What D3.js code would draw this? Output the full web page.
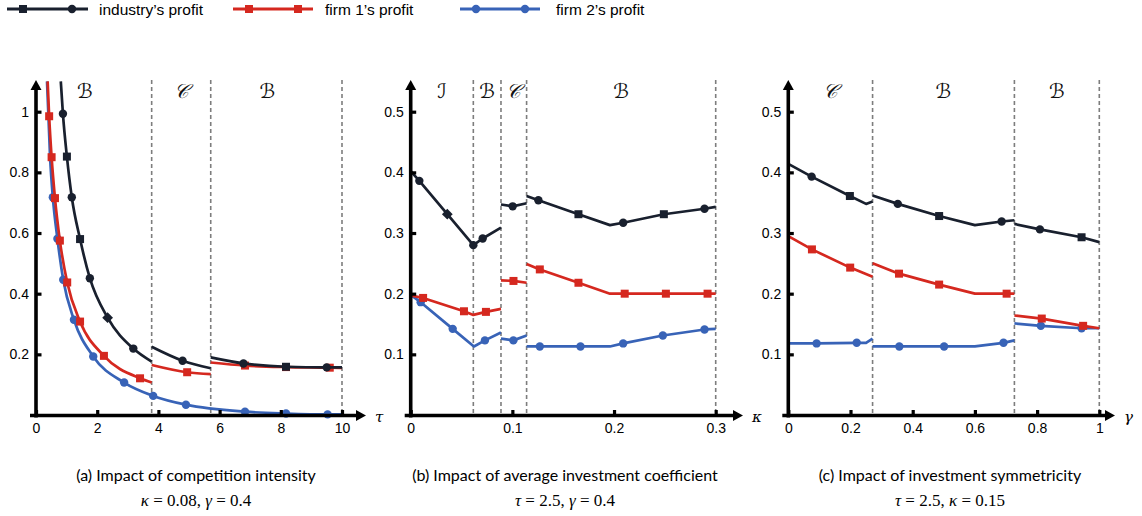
<!DOCTYPE html>
<html>
<head>
<meta charset="utf-8">
<script src="https://cdn.jsdelivr.net/npm/d3@7"></script>
<style>
  body { margin: 0; background: #fff; }
  svg text { font-family: "Liberation Sans", Arial, sans-serif; }
</style>
</head>
<body>
<svg id="chart" width="1142" height="516"></svg>
<script>
// ---------- series data: each series is a list of segments, each point [x, y, marker] ----------
// marker: "o" circle, "s" square, "d" diamond, "" none

// (a) competition intensity tau
const aIndustry = [
  [[0.81,1.10,""],[0.88,0.993,"o"],[1.01,0.852,"s"],[1.17,0.718,"o"],[1.44,0.580,"s"],[1.76,0.451,"o"],[2.34,0.321,"d"],[3.18,0.219,"o"],[3.78,0.176,""]],
  [[3.78,0.225,""],[4.79,0.179,"o"],[5.71,0.154,""]],
  [[5.71,0.190,""],[6.78,0.170,"o"],[8.17,0.159,"s"],[9.50,0.157,"o"],[10.0,0.157,""]]
];
const aFirm1 = [
  [[0.38,1.10,""],[0.43,0.985,"s"],[0.51,0.850,"s"],[0.62,0.715,"s"],[0.78,0.575,"s"],[1.02,0.437,"s"],[1.44,0.308,"s"],[2.22,0.195,"s"],[3.40,0.121,"s"],[3.78,0.107,""]],
  [[3.78,0.165,""],[4.94,0.141,"s"],[5.71,0.135,""]],
  [[5.71,0.173,""],[6.83,0.163,"s"],[8.17,0.158,"s"],[9.60,0.156,"s"],[10.0,0.155,""]]
];
const aFirm2 = [
  [[0.36,1.10,""],[0.46,0.850,""],[0.55,0.718,"o"],[0.70,0.581,"o"],[0.89,0.446,"o"],[1.24,0.314,"o"],[1.87,0.193,"o"],[2.88,0.107,"o"],[3.83,0.063,"o"],[4.90,0.034,"o"],[6.83,0.011,"o"],[8.17,0.005,"o"],[9.53,0.002,"o"],[10.0,0.002,""]]
];
const aBounds = [3.78, 5.71, 10];
const aRegions = ["ℬ", "𝒞", "ℬ"];
const aXTicks = [0, 2, 4, 6, 8, 10];
const aYTicks = [0.2, 0.4, 0.6, 0.8, 1];

// (b) average investment coefficient kappa
const bIndustry = [
  [[0,0.402,""],[0.0085,0.386,"o"],[0.036,0.331,"d"],[0.0616,0.280,"o"],[0.0708,0.291,"o"],[0.0888,0.309,""]],
  [[0.0888,0.347,""],[0.1003,0.344,"o"],[0.114,0.349,""]],
  [[0.114,0.361,""],[0.1256,0.354,"o"],[0.165,0.331,"s"],[0.196,0.313,""],[0.209,0.317,"o"],[0.249,0.331,"s"],[0.289,0.340,"o"],[0.30,0.343,""]]
];
const bFirm1 = [
  [[0,0.197,""],[0.0122,0.193,"s"],[0.0524,0.171,"s"],[0.0616,0.165,""],[0.074,0.170,"s"],[0.0888,0.175,""]],
  [[0.0888,0.222,""],[0.1011,0.221,"s"],[0.114,0.218,""]],
  [[0.114,0.249,""],[0.127,0.240,"s"],[0.165,0.218,"s"],[0.196,0.200,""],[0.2105,0.200,"s"],[0.251,0.200,"s"],[0.292,0.200,"s"],[0.30,0.200,""]]
];
const bFirm2 = [
  [[0,0.198,""],[0.0098,0.186,"o"],[0.0413,0.142,"o"],[0.0622,0.113,""],[0.073,0.123,"o"],[0.0888,0.136,""]],
  [[0.0888,0.126,""],[0.101,0.123,"o"],[0.114,0.131,""]],
  [[0.114,0.113,""],[0.127,0.113,"o"],[0.167,0.113,"o"],[0.196,0.113,""],[0.209,0.118,"o"],[0.248,0.131,"o"],[0.289,0.141,"o"],[0.30,0.142,""]]
];
const bBounds = [0.0616, 0.0888, 0.114, 0.3];
const bRegions = ["ℐ", "ℬ", "𝒞", "ℬ"];
const bXTicks = [0, 0.1, 0.2, 0.3];
const bYTicks = [0.1, 0.2, 0.3, 0.4, 0.5];

// (c) investment symmetricity gamma
const cIndustry = [
  [[0,0.414,""],[0.075,0.393,"o"],[0.198,0.361,"s"],[0.25,0.348,""],[0.271,0.352,""]],
  [[0.271,0.362,""],[0.352,0.348,"o"],[0.485,0.328,"s"],[0.600,0.313,""],[0.686,0.319,"o"],[0.727,0.321,""]],
  [[0.727,0.315,""],[0.809,0.306,"o"],[0.943,0.293,"s"],[1.0,0.285,""]]
];
const cFirm1 = [
  [[0,0.295,""],[0.076,0.273,"s"],[0.199,0.243,"s"],[0.271,0.228,""]],
  [[0.271,0.250,""],[0.356,0.233,"s"],[0.485,0.215,"s"],[0.600,0.200,""],[0.702,0.200,"s"],[0.727,0.200,""]],
  [[0.727,0.164,""],[0.815,0.159,"s"],[0.948,0.147,"s"],[1.0,0.143,""]]
];
const cFirm2 = [
  [[0,0.118,""],[0.091,0.118,"o"],[0.22,0.119,"o"],[0.25,0.119,""],[0.271,0.126,""]],
  [[0.271,0.113,""],[0.357,0.113,"o"],[0.501,0.113,"o"],[0.600,0.113,""],[0.692,0.119,"o"],[0.727,0.123,""]],
  [[0.727,0.151,""],[0.812,0.147,"o"],[0.943,0.143,"o"],[1.0,0.143,""]]
];
const cBounds = [0.271, 0.727, 1];
const cRegions = ["𝒞", "ℬ", "ℬ"];
const cXTicks = [0, 0.2, 0.4, 0.6, 0.8, 1];
const cYTicks = [0.1, 0.2, 0.3, 0.4, 0.5];

// legend and captions
const legendLabels = ["industry’s profit", "firm 1’s profit", "firm 2’s profit"];
const captionTitles = [
  "(a) Impact of competition intensity",
  "(b) Impact of average investment coefficient",
  "(c) Impact of investment symmetricity"
];
// parameter lines: [text, italic?]
const captionParams = [
  [["κ",1],[" = 0.08, ",0],["γ",1],[" = 0.4",0]],
  [["τ",1],[" = 2.5,  ",0],["γ",1],[" = 0.4",0]],
  [["τ",1],[" = 2.5, ",0],["κ",1],[" = 0.15",0]]
];
const axisSymbols = ["τ", "κ", "γ"];

// ---------- drawing ----------
const COLORS = { industry: "#19202e", firm1: "#d5281f", firm2: "#3863b7" };
const svg = d3.select("#chart");
svg.append("rect").attr("width", 1142).attr("height", 516).attr("fill", "#fff");

const AXIS_Y = 415.5, AXIS_TOP = 80;

const panels = [
  { x0: 36, x1: 342, tip: 366, xDomain: [0, 10], yMax: 1, curve: d3.curveMonotoneX,
    series: [aFirm2, aFirm1, aIndustry], bounds: aBounds, regions: aRegions,
    xTicks: aXTicks, yTicks: aYTicks, cx: 196, labelShift: -9 },
  { x0: 410.7, x1: 715.7, tip: 743, xDomain: [0, 0.3], yMax: 0.5, curve: d3.curveLinear,
    series: [bFirm2, bFirm1, bIndustry], bounds: bBounds, regions: bRegions,
    xTicks: bXTicks, yTicks: bYTicks, cx: 565, labelShift: 0 },
  { x0: 788.3, x1: 1099.3, tip: 1115, xDomain: [0, 1], yMax: 0.5, curve: d3.curveLinear,
    series: [cFirm2, cFirm1, cIndustry], bounds: cBounds, regions: cRegions,
    xTicks: cXTicks, yTicks: cYTicks, cx: 950, labelShift: 0 }
];
const seriesColors = [COLORS.firm2, COLORS.firm1, COLORS.industry];

function drawMarker(g, x, y, type, color) {
  if (type === "o") {
    g.append("circle").attr("cx", x).attr("cy", y).attr("r", 4.2).attr("fill", color);
  } else if (type === "s") {
    g.append("rect").attr("x", x - 4).attr("y", y - 4).attr("width", 8).attr("height", 8).attr("fill", color);
  } else if (type === "d") {
    g.append("rect").attr("x", -3.8).attr("y", -3.8).attr("width", 7.6).attr("height", 7.6)
      .attr("fill", color).attr("transform", `translate(${x},${y}) rotate(45)`);
  }
}

panels.forEach((p, i) => {
  const x = d3.scaleLinear().domain(p.xDomain).range([p.x0, p.x1]);
  const y = d3.scaleLinear().domain([0, p.yMax]).range([415, 111.7]);
  const g = svg.append("g");

  // dashed regime boundaries
  p.bounds.forEach(b => {
    g.append("line").attr("x1", x(b)).attr("x2", x(b)).attr("y1", AXIS_TOP).attr("y2", AXIS_Y)
      .attr("stroke", "#7d7d7d").attr("stroke-width", 1.6).attr("stroke-dasharray", "4,3");
  });

  // regime labels, centred in each regime
  const edges = [p.xDomain[0], ...p.bounds];
  p.regions.forEach((r, k) => {
    const shift = k === p.regions.length - 1 ? p.labelShift : (k === 0 ? p.labelShift : 0);
    g.append("text").attr("x", x((edges[k] + edges[k + 1]) / 2) + shift).attr("y", 98)
      .attr("text-anchor", "middle")
      .style("font-family", '"DejaVu Serif", "DejaVu Sans", serif')
      .style("font-style", "italic").style("font-size", "20px").attr("fill", "#111").text(r);
  });

  // series
  const clipId = "clip" + i;
  svg.append("clipPath").attr("id", clipId).append("rect")
    .attr("x", p.x0 - 10).attr("y", 81).attr("width", p.tip - p.x0 + 10).attr("height", 340);
  const plot = g.append("g").attr("clip-path", `url(#${clipId})`);
  const line = d3.line().x(d => x(d[0])).y(d => y(d[1])).curve(p.curve);
  p.series.forEach((segs, si) => {
    const col = seriesColors[si];
    segs.forEach(seg => {
      plot.append("path").attr("d", line(seg)).attr("fill", "none")
        .attr("stroke", col).attr("stroke-width", 2.7).attr("stroke-linejoin", "round");
    });
    segs.forEach(seg => seg.forEach(d => { if (d[2]) drawMarker(plot, x(d[0]), y(d[1]), d[2], col); }));
  });

  // axes with ticks
  const fmt = d3.format("~g");
  const yAxis = d3.axisLeft(y).tickValues(p.yTicks).tickFormat(fmt).tickSize(-5.5).tickPadding(7);
  const ya = g.append("g").attr("transform", `translate(${p.x0},0)`).call(yAxis);
  const xAxis = d3.axisBottom(x).tickValues(p.xTicks).tickFormat(fmt).tickSize(-5.5).tickPadding(8);
  const xa = g.append("g").attr("transform", `translate(0,${AXIS_Y})`).call(xAxis);
  [ya, xa].forEach(a => {
    a.select(".domain").remove();
    a.selectAll(".tick line").attr("stroke", "#000").attr("stroke-width", 3.2);
    a.selectAll(".tick text").attr("fill", "#000").style("font-size", "14px")
      .style("font-family", '"Liberation Sans", Arial, sans-serif');
  });

  // thick axis lines with arrow heads
  g.append("line").attr("x1", p.x0).attr("x2", p.x0).attr("y1", AXIS_Y + 2).attr("y2", AXIS_TOP + 6)
    .attr("stroke", "#000").attr("stroke-width", 3.6);
  g.append("path").attr("d", `M${p.x0 - 5.5},${AXIS_TOP + 10} L${p.x0},${AXIS_TOP} L${p.x0 + 5.5},${AXIS_TOP + 10} Z`).attr("fill", "#000");
  g.append("line").attr("x1", p.x0 - 6).attr("x2", p.tip - 6).attr("y1", AXIS_Y).attr("y2", AXIS_Y)
    .attr("stroke", "#000").attr("stroke-width", 3.6);
  g.append("path").attr("d", `M${p.tip - 10},${AXIS_Y - 5.5} L${p.tip},${AXIS_Y} L${p.tip - 10},${AXIS_Y + 5.5} Z`).attr("fill", "#000");
  g.append("text").attr("x", p.tip + 9).attr("y", AXIS_Y + 6)
    .style("font-family", '"DejaVu Serif", "Liberation Serif", serif').style("font-style", "italic")
    .style("font-size", "15px").attr("fill", "#000").text(axisSymbols[i]);

  // captions
  g.append("text").attr("x", p.cx).attr("y", 481).attr("text-anchor", "middle")
    .style("font-family", "Lato, 'Open Sans', sans-serif").style("font-size", "16px").attr("fill", "#000")
    .text(captionTitles[i]);
  const t = g.append("text").attr("x", p.cx).attr("y", 506).attr("text-anchor", "middle")
    .style("font-family", '"Liberation Serif", "DejaVu Serif", serif').style("font-size", "17px").attr("fill", "#000");
  captionParams[i].forEach(([s, it]) => {
    t.append("tspan").style("font-style", it ? "italic" : "normal").text(s);
  });
});

// legend
const legend = [
  { x0: 7, x1: 88, marks: [[23, "s"], [72, "o"]], tx: 99, color: COLORS.industry },
  { x0: 233, x1: 313, marks: [[249, "s"], [298, "s"]], tx: 325, color: COLORS.firm1 },
  { x0: 460, x1: 540, marks: [[476, "o"], [525, "o"]], tx: 556, color: COLORS.firm2 }
];
const lg = svg.append("g");
legend.forEach((l, k) => {
  lg.append("line").attr("x1", l.x0).attr("x2", l.x1).attr("y1", 9).attr("y2", 9)
    .attr("stroke", l.color).attr("stroke-width", 3);
  l.marks.forEach(([mx, mt]) => drawMarker(lg, mx, 9, mt, l.color));
  lg.append("text").attr("x", l.tx).attr("y", 14.5).style("font-size", "15.5px").attr("fill", "#000")
    .text(legendLabels[k]);
});
</script>
</body>
</html>
